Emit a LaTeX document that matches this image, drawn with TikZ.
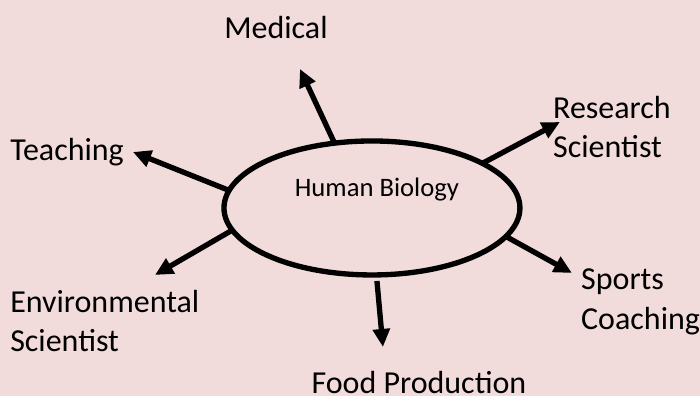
\documentclass[tikz,border=0pt]{standalone}
\usepackage{fontspec}
\setmainfont{Carlito}
\usetikzlibrary{shapes.geometric,arrows.meta}
\definecolor{bgpink}{HTML}{F2DCDB}

\begin{document}
\begin{tikzpicture}[x=0.75pt, y=-0.75pt, every node/.style={font=\fontsize{24}{29.5}\selectfont, inner sep=0pt},
	lbl/.style={align=left, anchor=west},
	arr/.style={line width=4pt, -{Triangle[length=13.5pt, width=12.5pt]}},
	ell/.style={draw, ellipse, line width=4pt, minimum width=296*0.75pt, minimum height=134*0.75pt, outer sep=0pt}]
	\fill[bgpink] (0,0) rectangle (700,396);
	\node[ell] (bio) at (372,208) {};
	\node[font=\fontsize{20}{24}\selectfont] (hb) at (377,190) {Human Biology};
	% labels
	\node (med) at (276,28) {Medical};
	\node[lbl] (res) at (553,127) {Research\\Scientist};
	\node[lbl] (teach) at (10,152) {Teaching};
	\node[lbl] (sport) at (581,302) {Sports\\Coaching};
	\node[lbl] (env) at (10,321) {Environmental\\Scientist};
	\node (food) at (419,383) {Food Production};
	% arrow tips
	\coordinate (medtip) at (300,69); \coordinate (restip) at (560,122); \coordinate (sporttip) at (572,273);
	\coordinate (foodtip) at (383,347); \coordinate (teachtip) at (133,152); \coordinate (envtip) at (155,275);
	\draw[arr] (bio.120) -- (medtip);
	\draw[arr] (bio.22) -- (restip);
	\draw[arr] (bio.-12) -- (sporttip);
	\draw[arr] ([yshift=-6*0.75pt]bio.south) ++(5,0) -- (foodtip);
	\draw[arr] (bio.173) -- (teachtip);
	\draw[arr] (bio.-171) -- (envtip);
\end{tikzpicture}
\end{document}
